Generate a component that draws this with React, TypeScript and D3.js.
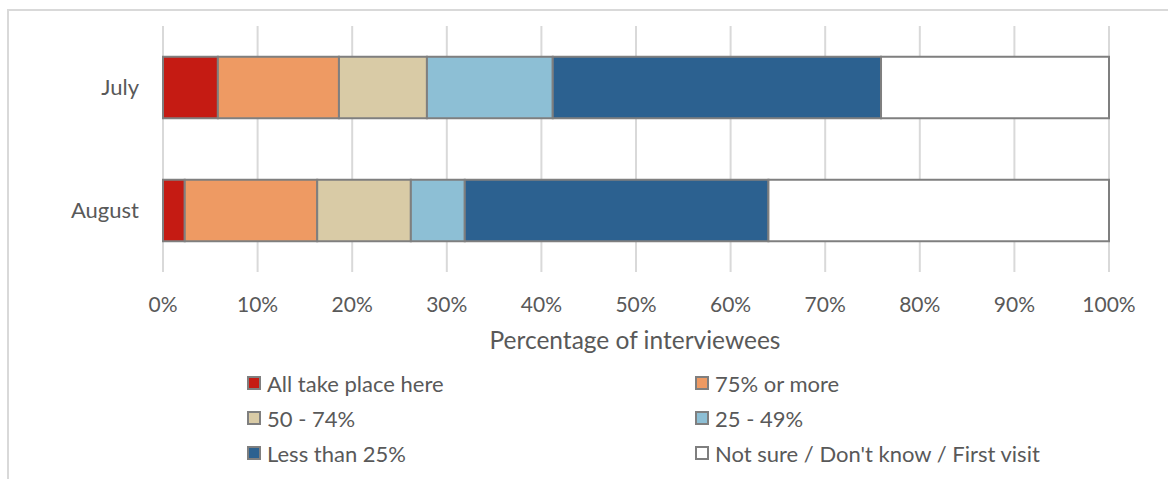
import React from "react";
import * as d3 from "d3";

// Survey months (rows of the stacked bar chart)
const months = ["July", "August"];

// Response categories, in stacking order
const categories = [
  "All take place here",
  "75% or more",
  "50 - 74%",
  "25 - 49%",
  "Less than 25%",
  "Not sure / Don't know / First visit",
];

// Share of interviewees (%) per category, one array per month
const julyValues = [5.8, 12.8, 9.3, 13.3, 34.7, 24.1];
const augustValues = [2.3, 14.0, 9.9, 5.7, 32.1, 36.0];

const colors = ["#C51B13", "#EE9A63", "#D9CBA6", "#8DBFD5", "#2C6190", "#FFFFFF"];

const xTicks = [0, 10, 20, 30, 40, 50, 60, 70, 80, 90, 100];
const axisTitle = "Percentage of interviewees";

const W = 1168;
const H = 479;
const FONT = "Lato, 'Open Sans', sans-serif";
const TEXT = "#595959";

export default function App() {
  const x = d3.scaleLinear().domain([0, 100]).range([163, 1109]);
  const y = d3.scaleBand().domain(months).range([26, 272]).paddingInner(0.5).paddingOuter(0.25);

  const rows = months.map((m, i) => {
    const vals = i === 0 ? julyValues : augustValues;
    let acc = 0;
    return {
      month: m,
      segs: vals.map((v, k) => {
        const s = { k, x0: acc, x1: acc + v };
        acc += v;
        return s;
      }),
    };
  });

  const legendCols = [247, 695];
  const legendRows = [384, 419, 454];

  return (
    <svg
      width={W}
      height={H}
      style={{ position: "absolute", left: 0, top: 0, display: "block" }}
      fontFamily={FONT}
    >
      <rect x={0} y={0} width={W} height={H} fill="#fff" />
      <rect x={8} y={10} width={W + 20} height={H + 20} fill="none" stroke="#D9D9D9" strokeWidth={2} />

      {/* vertical gridlines */}
      {xTicks.map((t) => (
        <line key={t} x1={x(t)} x2={x(t)} y1={26} y2={272} stroke="#D9D9D9" strokeWidth={2} />
      ))}

      {/* stacked bars */}
      {rows.map((r) =>
        r.segs.map((s) => (
          <rect
            key={r.month + s.k}
            x={x(s.x0)}
            y={y(r.month)!}
            width={x(s.x1) - x(s.x0)}
            height={y.bandwidth()}
            fill={colors[s.k]}
            stroke="#7F7F7F"
            strokeWidth={2}
          />
        ))
      )}

      {/* category labels */}
      {months.map((m) => (
        <text
          key={m}
          x={139}
          y={y(m)! + y.bandwidth() / 2}
          dy="0.35em"
          textAnchor="end"
          fontSize={22}
          fill={TEXT}
        >
          {m}
        </text>
      ))}

      {/* x tick labels */}
      {xTicks.map((t) => (
        <text key={t} x={x(t)} y={312} textAnchor="middle" fontSize={21} fill={TEXT}>
          {t + "%"}
        </text>
      ))}

      <text x={x(50) - 1} y={349} textAnchor="middle" fontSize={24.5} fill={TEXT}>
        {axisTitle}
      </text>

      {/* legend */}
      {categories.map((c, i) => {
        const cx = legendCols[i % 2];
        const cy = legendRows[Math.floor(i / 2)];
        return (
          <g key={c}>
            <rect x={cx + 1} y={cy - 7} width={12} height={12} fill={colors[i]} stroke="#7F7F7F" strokeWidth={2} />
            <text x={cx + 20} y={cy} dy="0.35em" fontSize={22} fill={TEXT}>
              {c}
            </text>
          </g>
        );
      })}
    </svg>
  );
}
